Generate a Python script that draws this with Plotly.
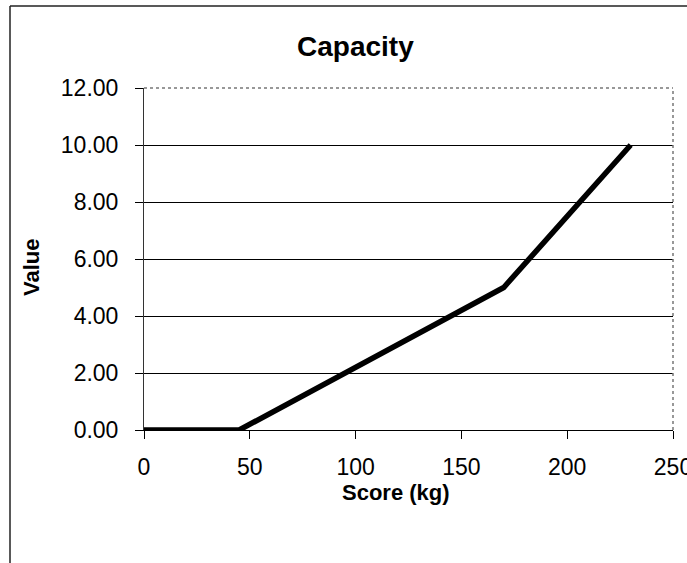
import plotly.graph_objects as go

# Data
score_kg = [0, 45, 170, 230]
value = [0.0, 0.0, 5.0, 10.0]
x_ticks = [0, 50, 100, 150, 200, 250]
y_ticks = [0, 2, 4, 6, 8, 10, 12]
y_tick_labels = ["0.00", "2.00", "4.00", "6.00", "8.00", "10.00", "12.00"]

W, H = 687, 563
L, R, T, B = 144, 673, 88, 430
pw, ph = R - L, B - T

def px(x):
    return (x - L) / pw

def py(y):
    return (B - y) / ph

FONT = "Liberation Sans, Arial, sans-serif"

fig = go.Figure()
fig.add_trace(go.Scatter(
    x=score_kg, y=value, mode="lines",
    line=dict(color="black", width=5.5),
    showlegend=False, hoverinfo="skip",
))

fig.update_layout(
    width=W, height=H,
    margin=dict(l=L, r=W - R, t=T, b=H - B, pad=0, autoexpand=False),
    paper_bgcolor="white", plot_bgcolor="white",
    font=dict(family=FONT, color="black", size=23),
    xaxis=dict(
        range=[0, 250], tickvals=x_ticks, ticktext=[str(v) for v in x_ticks],
        showgrid=False, zeroline=False, automargin=False,
        showline=True, linecolor="black", linewidth=1, mirror=False,
        ticks="outside", ticklen=8, tickcolor="black", tickwidth=1,
        ticklabelstandoff=8, ticklabeloverflow="allow",
        tickfont=dict(size=23, family=FONT),
    ),
    yaxis=dict(
        range=[0, 12], tickvals=y_ticks, ticktext=y_tick_labels,
        showgrid=True, gridcolor="black", gridwidth=1,
        zeroline=False, automargin=False,
        showline=True, linecolor="#333", linewidth=1, mirror=False,
        ticks="outside", ticklen=8, tickcolor="black", tickwidth=1,
        ticklabelstandoff=12, ticklabeloverflow="allow",
        tickfont=dict(size=23, family=FONT),
    ),
    shapes=[
        # plot area border (top & right, grey dotted look)
        dict(type="line", xref="paper", yref="paper", x0=0, y0=1, x1=1, y1=1,
             line=dict(color="#777", width=1.5, dash="dot")),
        dict(type="line", xref="paper", yref="paper", x0=1, y0=0, x1=1, y1=1,
             line=dict(color="#777", width=1.5, dash="dot")),
        # chart area border (left and top visible)
        dict(type="line", xref="paper", yref="paper",
             x0=px(10), y0=py(6), x1=px(10), y1=py(570),
             line=dict(color="#222", width=1.5)),
        dict(type="line", xref="paper", yref="paper",
             x0=px(10), y0=py(6), x1=px(700), y1=py(6),
             line=dict(color="#222", width=1.5)),
    ],
    annotations=[
        dict(text="<b>Capacity</b>", xref="paper", yref="paper",
             x=px(355), y=py(47), showarrow=False,
             xanchor="center", yanchor="middle",
             font=dict(size=28, family=FONT, color="black")),
        dict(text="<b>Score (kg)</b>", xref="paper", yref="paper",
             x=px(396), y=py(493), showarrow=False,
             xanchor="center", yanchor="middle",
             font=dict(size=22, family=FONT, color="black")),
        dict(text="<b>Value</b>", xref="paper", yref="paper",
             x=px(31), y=py(268), showarrow=False, textangle=-90,
             xanchor="center", yanchor="middle",
             font=dict(size=22, family=FONT, color="black")),
    ],
)

fig.write_html("out.html")
